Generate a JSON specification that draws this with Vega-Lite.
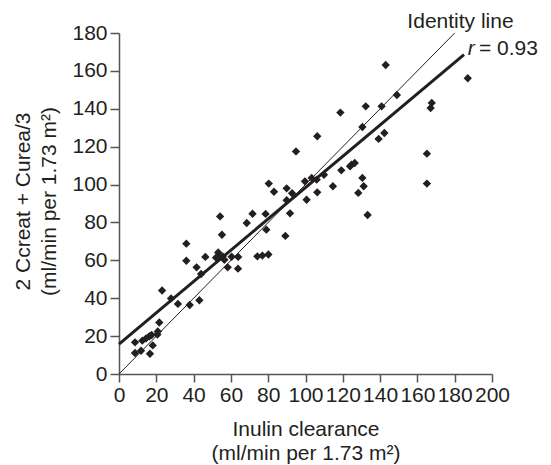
{
  "$schema": "https://vega.github.io/schema/vega-lite/v6.json",
  "width": 373,
  "height": 341,
  "autosize": {"type": "none"},
  "padding": {"left": 119, "top": 33, "right": 59, "bottom": 91},
  "background": "white",
  "config": {
    "view": {"stroke": null},
    "font": "Liberation Sans",
    "axis": {
      "grid": false,
      "domainColor": "#555555",
      "domainWidth": 1.5,
      "tickColor": "#555555",
      "tickWidth": 1.5,
      "labelFont": "Liberation Sans",
      "labelFontSize": 21,
      "labelColor": "#231f20",
      "titleFont": "Liberation Sans",
      "titleFontSize": 21,
      "titleFontWeight": "normal",
      "titleColor": "#231f20"
    }
  },
  "encoding": {
    "x": {"field": "x", "type": "quantitative", "scale": {"domain": [0, 200], "nice": false},
      "axis": {"values": [0,20,40,60,80,100,120,140,160,180,200], "tickSize": 8, "labelPadding": 2, "labelFlush": false, "labelOverlap": false,
        "title": ["Inulin clearance", "(ml/min per 1.73 m²)"], "titleX": 186.5, "titleY": 61, "titleAlign": "center", "titleBaseline": "alphabetic", "titleLineHeight": 24}},
    "y": {"field": "y", "type": "quantitative", "scale": {"domain": [0, 180], "nice": false},
      "axis": {"values": [0,20,40,60,80,100,120,140,160,180], "tickSize": 9, "labelPadding": 3, "labelFlush": false, "labelOverlap": false,
        "title": ["2 Ccreat + Curea/3", "(ml/min per 1.73 m²)"], "titleAngle": 270, "titleX": -90, "titleY": 168, "titleAlign": "center", "titleBaseline": "alphabetic", "titleLineHeight": 26}}
  },
  "layer": [
    {
      "data": {"values": [
        {"series": "Identity line", "x": 0, "y": 0},
        {"series": "Identity line", "x": 180, "y": 180}
      ]},
      "mark": {"type": "line", "color": "#231f20", "strokeWidth": 1}
    },
    {
      "data": {"values": [
        {"series": "Regression", "x": 0, "y": 15.8},
        {"series": "Regression", "x": 185, "y": 168.6}
      ]},
      "mark": {"type": "line", "color": "#231f20", "strokeWidth": 3}
    },
    {
      "data": {"values": [
        {"x": 8.6, "y": 16.7}, {"x": 8.6, "y": 11.1}, {"x": 11.8, "y": 12.3}, {"x": 12.5, "y": 17.6},
        {"x": 14.5, "y": 18.8}, {"x": 16.3, "y": 19.9}, {"x": 17.5, "y": 20.6}, {"x": 16.6, "y": 10.7},
        {"x": 18.1, "y": 15.1}, {"x": 20.6, "y": 20.8}, {"x": 20.8, "y": 22.5}, {"x": 21.6, "y": 27.2},
        {"x": 23.1, "y": 44.1}, {"x": 27.9, "y": 39.9}, {"x": 31.6, "y": 37.0}, {"x": 36.1, "y": 68.8},
        {"x": 36.1, "y": 59.8}, {"x": 37.9, "y": 36.4}, {"x": 41.6, "y": 56.3}, {"x": 43.1, "y": 38.9},
        {"x": 44.0, "y": 52.8}, {"x": 46.3, "y": 61.8}, {"x": 52.0, "y": 61.4}, {"x": 53.2, "y": 64.2},
        {"x": 54.2, "y": 83.2}, {"x": 55.2, "y": 73.5}, {"x": 55.6, "y": 62.1}, {"x": 53.8, "y": 62.5},
        {"x": 56.5, "y": 60.3}, {"x": 58.3, "y": 56.3}, {"x": 60.4, "y": 61.9}, {"x": 63.9, "y": 61.8},
        {"x": 63.8, "y": 55.6}, {"x": 68.5, "y": 79.7}, {"x": 71.6, "y": 84.6}, {"x": 74.2, "y": 62.1},
        {"x": 76.9, "y": 62.5}, {"x": 78.6, "y": 84.5}, {"x": 79.0, "y": 76.2}, {"x": 80.1, "y": 63.1},
        {"x": 80.3, "y": 100.5}, {"x": 83.1, "y": 96.2}, {"x": 89.2, "y": 72.9}, {"x": 89.9, "y": 98.0},
        {"x": 89.9, "y": 91.7}, {"x": 91.7, "y": 84.8}, {"x": 92.8, "y": 95.4}, {"x": 94.9, "y": 117.5},
        {"x": 100.6, "y": 92.0}, {"x": 99.7, "y": 101.7}, {"x": 103.3, "y": 103.5}, {"x": 106.0, "y": 102.6},
        {"x": 106.3, "y": 95.9}, {"x": 109.9, "y": 105.2}, {"x": 114.7, "y": 99.1}, {"x": 106.3, "y": 125.5},
        {"x": 118.7, "y": 138.0}, {"x": 119.2, "y": 107.5}, {"x": 123.9, "y": 109.6}, {"x": 124.7, "y": 110.5},
        {"x": 126.4, "y": 111.4}, {"x": 128.3, "y": 95.6}, {"x": 130.5, "y": 103.5}, {"x": 131.2, "y": 99.1},
        {"x": 133.3, "y": 83.9}, {"x": 130.5, "y": 130.4}, {"x": 132.3, "y": 141.3}, {"x": 139.2, "y": 124.1},
        {"x": 140.8, "y": 141.3}, {"x": 142.3, "y": 127.2}, {"x": 143.0, "y": 163.1}, {"x": 149.0, "y": 147.3},
        {"x": 165.1, "y": 116.3}, {"x": 165.1, "y": 100.5}, {"x": 167.1, "y": 140.4}, {"x": 167.7, "y": 143.1},
        {"x": 187.0, "y": 156.1}
      ]},
      "mark": {"type": "point", "shape": "diamond", "filled": true, "size": 70, "color": "#231f20", "opacity": 1}
    },
    {
      "data": {"values": [{"x": 183.1, "y": 182.8, "label": "Identity line"}]},
      "mark": {"type": "text", "fontSize": 21, "color": "#231f20", "align": "center", "baseline": "alphabetic"},
      "encoding": {"text": {"field": "label"}}
    },
    {
      "data": {"values": [{"x": 187.0, "y": 168.6, "label": "r"}]},
      "mark": {"type": "text", "fontSize": 21, "fontStyle": "italic", "color": "#231f20", "align": "left", "baseline": "alphabetic"},
      "encoding": {"text": {"field": "label"}}
    },
    {
      "data": {"values": [{"x": 193.0, "y": 168.6, "label": "= 0.93"}]},
      "mark": {"type": "text", "fontSize": 21, "color": "#231f20", "align": "left", "baseline": "alphabetic"},
      "encoding": {"text": {"field": "label"}}
    }
  ]
}
